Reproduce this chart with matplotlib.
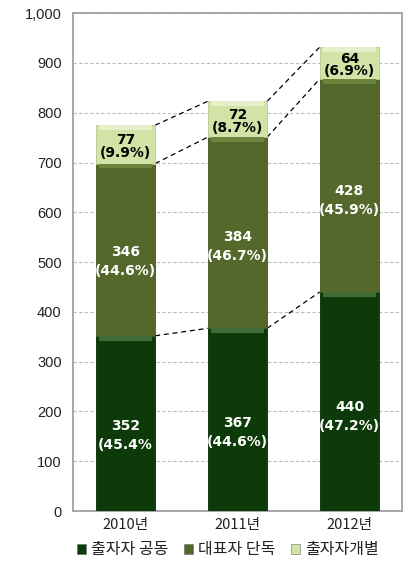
import matplotlib.pyplot as plt
import numpy as np
from matplotlib.patches import Patch

plt.rcParams['font.family'] = ['Noto Sans CJK KR', 'DejaVu Sans']

# data
years = ['2010년', '2011년', '2012년']
joint = [352, 367, 440]          # 출자자 공동
rep = [346, 384, 428]            # 대표자 단독
indiv = [77, 72, 64]             # 출자자개별
joint_pct = ['(45.4%', '(44.6%)', '(47.2%)']
rep_pct = ['(44.6%)', '(46.7%)', '(45.9%)']
indiv_pct = ['(9.9%)', '(8.7%)', '(6.9%)']
legend_names = ['출자자 공동', '대표자 단독', '출자자개별']

fig = plt.figure(figsize=(4.07, 5.71), dpi=100)
ax = fig.add_axes([0.179, 0.105, 0.809, 0.872])

x = np.arange(len(years))
w = 0.53
joint = np.array(joint)
rep = np.array(rep)
indiv = np.array(indiv)
c1 = '#0c3a08'
c2 = '#55682b'
c3 = '#d3e2a6'

ax.bar(x, joint, w, color=c1, edgecolor='#082a05', linewidth=0.6, zorder=3)
ax.bar(x, rep, w, bottom=joint, color=c2, edgecolor='#44561f', linewidth=0.6, zorder=3)
ax.bar(x, indiv, w, bottom=joint + rep, color=c3, edgecolor='#b8c98a', linewidth=0.6, zorder=3)

# top highlights of each segment
hl = 10
ax.bar(x, hl, w * 0.9, bottom=joint - hl, color='#3f6b35', linewidth=0, zorder=4)
ax.bar(x, hl, w * 0.9, bottom=joint + rep - hl, color='#6c843c', linewidth=0, zorder=4)
ax.bar(x, hl, w * 0.9, bottom=joint + rep + indiv - hl, color='#e6efc9', linewidth=0, zorder=4)

# dashed connectors
for level in [joint, joint + rep, joint + rep + indiv]:
    for i in range(len(x) - 1):
        ax.plot([x[i] + w / 2, x[i + 1] - w / 2], [level[i], level[i + 1]],
                color='black', ls=(0, (4, 3)), lw=0.9, zorder=2)

# labels
bold = dict(ha='center', va='center', fontsize=10, fontweight='bold',
            family=['DejaVu Sans'], zorder=5)
for i in range(len(x)):
    ax.text(x[i], joint[i] * 0.43, f'{joint[i]}\n{joint_pct[i]}',
            color='white', linespacing=1.45, **bold)
    ax.text(x[i], joint[i] + rep[i] * 0.43, f'{rep[i]}\n{rep_pct[i]}',
            color='white', linespacing=1.45, **bold)
    ax.text(x[i], joint[i] + rep[i] + indiv[i] * 0.44, f'{indiv[i]}\n{indiv_pct[i]}',
            color='black', linespacing=0.85, **bold)

ax.set_xlim(-0.47, 2.47)
ax.set_ylim(0, 1000)
ax.set_yticks(range(0, 1001, 100))
ax.set_yticklabels([f'{v:,}' for v in range(0, 1001, 100)],
                   family=['Liberation Sans'], fontsize=10.5, color='#222222')
ax.set_xticks(x)
ax.set_xticklabels(years, fontsize=10.5, color='#222222')
ax.tick_params(length=0, pad=8)
ax.tick_params(axis='x', pad=5)
ax.yaxis.grid(True, color='#bbbbbb', ls=(0, (3, 2)), lw=0.8)
ax.set_axisbelow(True)
for s in ax.spines.values():
    s.set_color('#a0a0a0')
    s.set_linewidth(1.3)

handles = [Patch(facecolor=c, edgecolor='#666666', linewidth=0.4) for c in [c1, c2, c3]]
fig.legend(handles, legend_names, loc='center', bbox_to_anchor=(0.56, 0.037),
           ncol=3, frameon=False, fontsize=11.5, handlelength=0.55, handleheight=0.55,
           handletextpad=0.3, columnspacing=1.0, labelcolor='#222222')

fig.savefig('out.png', dpi=100)
